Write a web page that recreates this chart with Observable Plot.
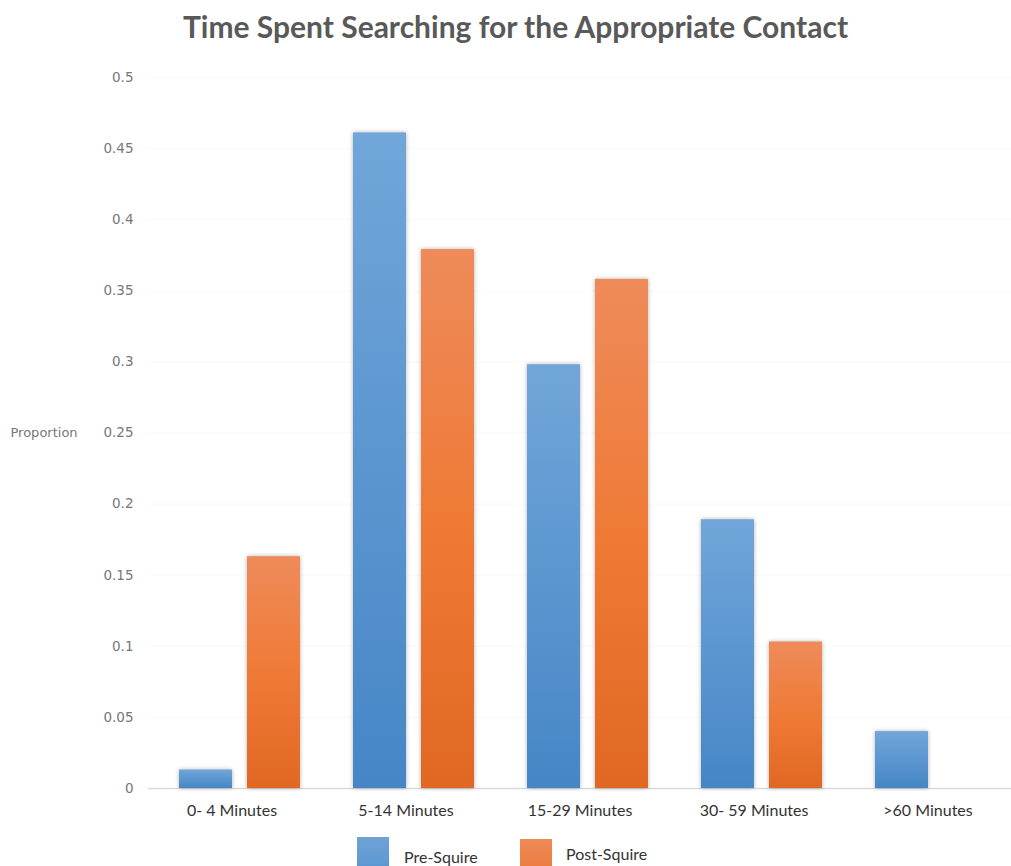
<!DOCTYPE html>
<html>
<head>
<meta charset="utf-8">
<script src="https://cdn.jsdelivr.net/npm/d3@7"></script>
<script src="https://cdn.jsdelivr.net/npm/@observablehq/plot@0.6"></script>
<style>
  html, body { margin: 0; padding: 0; background: #fff; overflow: hidden; }
  #wrap { position: relative; width: 1011px; height: 866px; overflow: hidden; font-family: Lato, sans-serif; }
  #title { position: absolute; top: 8px; left: 20px; width: 991px; text-align: center; font-size: 30px; font-weight: 700; color: #595959; }
  #chart { position: absolute; top: 0; left: 0; }
  .leg-sw { position: absolute; top: 837px; width: 32px; height: 32px; }
  .leg-tx { position: absolute; font-size: 16px; color: #333; }
  g[aria-label="bar"] rect { filter: drop-shadow(0px 0px 2px rgba(0,0,0,0.3)); }
</style>
</head>
<body>
<div id="wrap">
  <div id="chart"></div>
  <div id="title">Time Spent Searching for the Appropriate Contact</div>
  <div class="leg-sw" style="left:357px; background:linear-gradient(#6fa3d6,#5b97d1);"></div>
  <div class="leg-tx" style="left:404px; top:847px;">Pre-Squire</div>
  <div class="leg-sw" style="left:520px; top:839px; background:linear-gradient(#ee8a58,#ec7b3d);"></div>
  <div class="leg-tx" style="left:566px; top:844px;">Post-Squire</div>
</div>
<script>
const categories = ["0- 4 Minutes", "5-14 Minutes", "15-29 Minutes", "30- 59 Minutes", ">60 Minutes"];
const seriesNames = ["Pre-Squire", "Post-Squire"];
const preValues = [0.013, 0.461, 0.298, 0.189, 0.040];
const postValues = [0.163, 0.379, 0.358, 0.103, 0.0];
const yTicks = [0, 0.05, 0.1, 0.15, 0.2, 0.25, 0.3, 0.35, 0.4, 0.45, 0.5];

const pre = categories.map((c, i) => ({category: c, series: seriesNames[0], value: preValues[i]}));
const post = categories.map((c, i) => ({category: c, series: seriesNames[1], value: postValues[i]}));

const svg = Plot.plot({
  width: 1011,
  height: 866,
  marginTop: 77,
  marginBottom: 78,
  marginLeft: 148,
  marginRight: 0,
  style: {fontFamily: "Lato, sans-serif", fontSize: "13px", color: "#595959", background: "transparent"},
  x: {domain: categories, range: [151, 1025], paddingInner: 0.302, paddingOuter: 0.151, label: null},
  y: {domain: [0, 0.5], label: null},
  marks: [
    Plot.gridY(yTicks, {stroke: "#f9f9f9", strokeOpacity: 1}),
    Plot.ruleY([0], {stroke: "#d9d9d9", strokeWidth: 1.5}),
    Plot.barY(pre, {x: "category", y: "value", fill: "url(#gBlue)", insetRight: 68}),
    Plot.barY(post, {x: "category", y: "value", fill: "url(#gOrange)", insetLeft: 68}),
    Plot.axisY({ticks: yTicks, tickSize: 0, tickPadding: 15, tickFormat: d => String(+d.toFixed(2)), fill: "#777", fontSize: 13.5, fontFamily: "DejaVu Sans", label: null}),
    Plot.axisX({tickSize: 0, tickPadding: 16, fontSize: 16, fill: "#333", fontFamily: "Lato", label: null, dx: -8}),
    Plot.text(["Proportion"], {text: d => d, y: [0.25], frameAnchor: "left", textAnchor: "start", dx: -138, fill: "#777", fontSize: 13, fontFamily: "DejaVu Sans"})
  ]
});

const defs = d3.select(svg).insert("defs", ":first-child");
const gb = defs.append("linearGradient").attr("id", "gBlue").attr("x1", 0).attr("y1", 0).attr("x2", 0).attr("y2", 1);
gb.append("stop").attr("offset", "0%").attr("stop-color", "#71a6d9");
gb.append("stop").attr("offset", "100%").attr("stop-color", "#4686c6");
const go = defs.append("linearGradient").attr("id", "gOrange").attr("x1", 0).attr("y1", 0).attr("x2", 0).attr("y2", 1);
go.append("stop").attr("offset", "0%").attr("stop-color", "#ee8b5a");
go.append("stop").attr("offset", "50%").attr("stop-color", "#ef7a36");
go.append("stop").attr("offset", "100%").attr("stop-color", "#e06823");

document.getElementById("chart").appendChild(svg);
</script>
</body>
</html>
